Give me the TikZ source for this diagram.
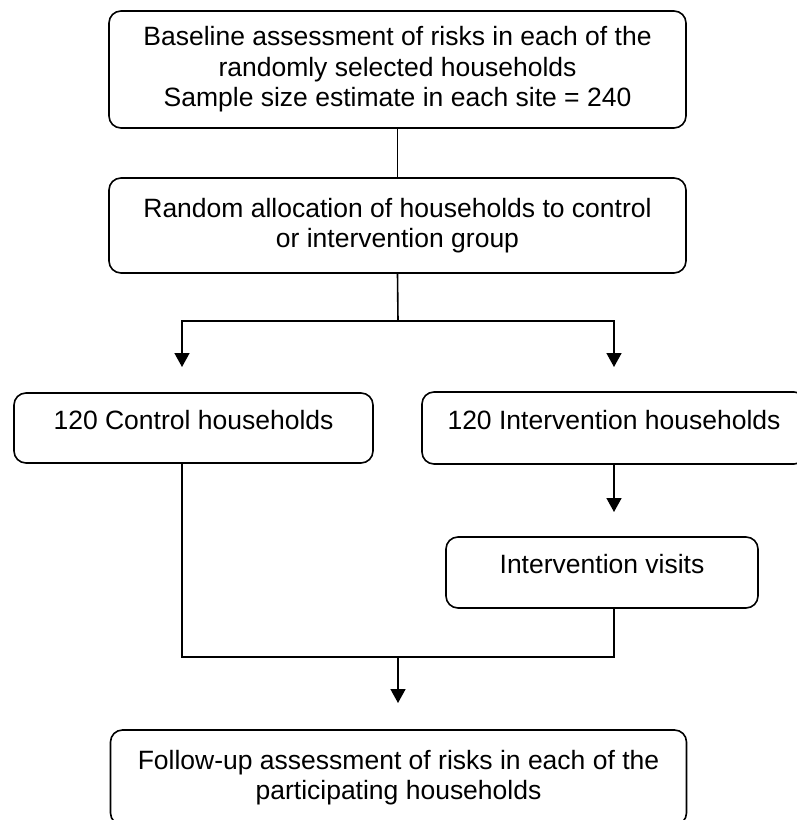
\documentclass[tikz,border=0pt]{standalone}
\usepackage{fontspec}
\setmainfont{Liberation Sans}
\usetikzlibrary{arrows.meta}

\begin{document}
\begin{tikzpicture}[x=1pt, y=-1pt,
        box/.style={draw, rounded corners=12pt, line width=1.6pt, align=center, inner sep=0pt,
            font=\fontsize{26.5}{30.5}\selectfont},
        onebox/.style={box, text height=19pt, text depth=17pt},
        link/.style={line width=1.6pt},
        arrow/.style={link, -{Triangle[width=15pt, length=14pt]}}]
        \useasboundingbox (0,0) rectangle (796,820);

        \node[box, minimum width=577pt, minimum height=117pt] (baseline) at (397.5, 69.5)
            {Baseline assessment of risks in each of the\\randomly selected households\\Sample size estimate in each site = 240};
        \node[box, minimum width=577pt, minimum height=95pt] (alloc) at (397.5, 225.5)
            {Random allocation of households to control\\or intervention group};

        \node[onebox, minimum width=359pt, minimum height=70pt] (control) at (193.5, 428) {120 Control households};
        \node[onebox, minimum width=384pt, minimum height=72pt] (interv) at (614, 428) {120 Intervention households};
        \node[onebox, minimum width=312pt, minimum height=71pt] (visits) at (602, 572.5) {Intervention visits};

        \node[box, minimum width=576pt, minimum height=95pt] (followup) at (398.5, 777.5)
            {Follow-up assessment of risks in each of the\\participating households};

        \coordinate (split) at (398, 321);
        \coordinate (controlIn) at (182, 367);
        \coordinate (intervIn) at (614, 367);
        \coordinate (visitsIn) at (614, 512);
        \coordinate (join) at (398, 657);
        \coordinate (followupIn) at (398, 703);

        \draw[link] (baseline.south) -- (alloc.north);
        \draw[link] (alloc.south) -- (split);
        \draw[arrow] (split) -- (split -| controlIn) -- (controlIn);
        \draw[arrow] (split) -- (split -| intervIn) -- (intervIn);
        \draw[arrow] (interv.south -| visitsIn) -- (visitsIn);
        \draw[link] (control.south -| controlIn) -- (controlIn |- join) -- (visitsIn |- join) -- (visits.south -| visitsIn);
        \draw[arrow] (join) -- (followupIn);
    \end{tikzpicture}
\end{document}
